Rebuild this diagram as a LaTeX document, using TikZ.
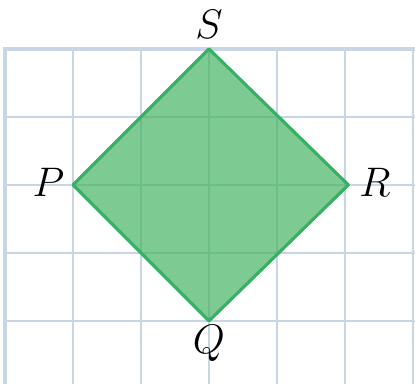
\documentclass[tikz,border=0pt]{standalone}
\usepackage{xcolor}
\definecolor{gridblue}{RGB}{200,213,228}
\definecolor{kiteline}{RGB}{55,175,100}
\definecolor{kitefill}{RGB}{70,180,100}
\begin{document}
\begin{tikzpicture}[font=\fontsize{18}{21}\selectfont,
    gridline/.style={draw=gridblue, line width=0.9pt},
    vertexlabel/.style={inner sep=1pt}]
        % Marco de la imagen
        \useasboundingbox (-0.074,-0.926) rectangle (6.03,4.72);

        % Cuadricula
        \foreach \x in {1,...,6}
            \draw[gridline] (\x,-0.926) -- (\x,4);
        \foreach \y in {0,...,3}
            \draw[gridline] (0,\y) -- (6.03,\y);
        \draw[gridline, line width=1.8pt] (0,-0.926) -- (0,4) -- (6.03,4);

        % Vertices del cuadrado
        \coordinate (P) at (1,2);
        \coordinate (S) at (3,4);
        \coordinate (R) at (5.05,2);
        \coordinate (Q) at (3,0);

        % Cuadrado PSRQ
        \draw[fill=kitefill, fill opacity=0.7, draw=kiteline, line width=1.3pt, line join=round]
            (P) -- (S) -- (R) -- (Q) -- cycle;

        % Etiquetas
        \node[vertexlabel] (labS) at (3,4.36) {$S$};
        \node[vertexlabel] (labP) at (0.64,2.03) {$P$};
        \node[vertexlabel] (labR) at (5.44,2.03) {$R$};
        \node[vertexlabel] (labQ) at (3,-0.33) {$Q$};
    \end{tikzpicture}
\end{document}
